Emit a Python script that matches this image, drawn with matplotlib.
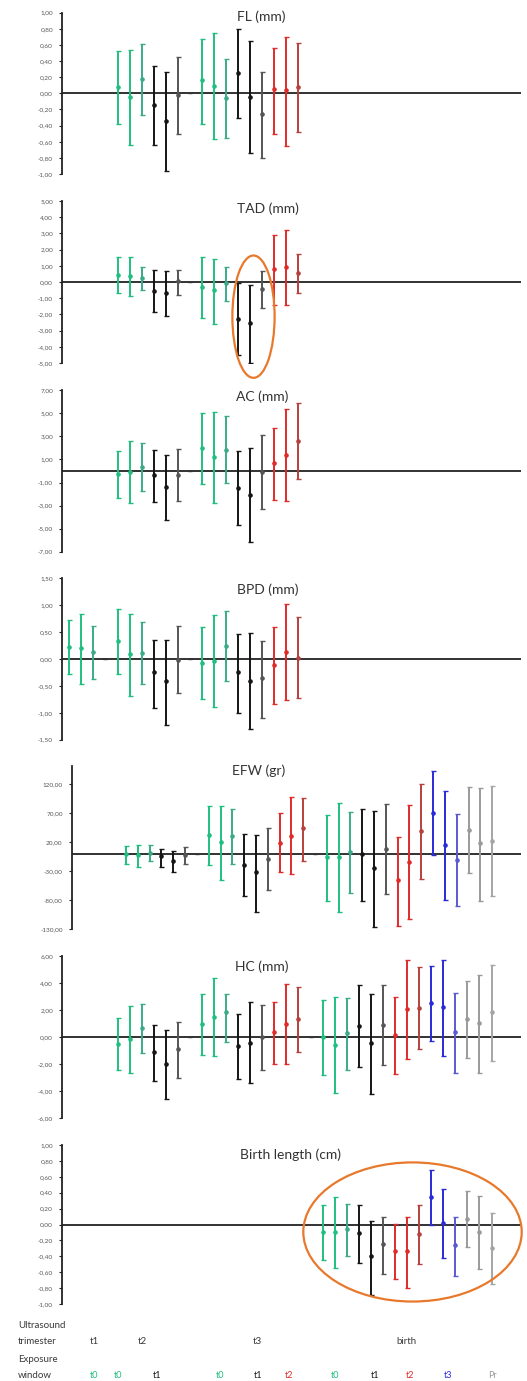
import matplotlib
matplotlib.use("Agg")
import matplotlib.pyplot as plt
from matplotlib.patches import Ellipse
import numpy as np

plt.rcParams['font.family'] = ['Lato', 'DejaVu Sans']

W, H = 527, 1381

# exposure window of every slot along the x axis ('' = spacer between trimesters)
SLOT_WINDOW = ['t0', 't0', 't0', '',
               't0', 't0', 't0', 't1', 't1', 't1', '',
               't0', 't0', 't0', 't1', 't1', 't1', 't2', 't2', 't2', '',
               't0', 't0', 't0', 't1', 't1', 't1', 't2', 't2', 't2',
               't3', 't3', 't3', 'Pr', 'Pr', 'Pr']

# three shades per window (third estimate of each group is a bit different)
COLORS = {
    't0': ['#1fbf7f', '#1fbf7f', '#3aaa88'],
    't1': ['#151515', '#151515', '#555555'],
    't2': ['#e02a2a', '#e02a2a', '#b5403c'],
    't3': ['#2a2ad8', '#2a2ad8', '#5a5ad0'],
    'Pr': ['#9a9a9a', '#9a9a9a', '#a5a5a5'],
    '': ['#333333'] * 3,
}

# ---- estimates (mean, upper, lower) per outcome ----
FL_START = 4
FL_MEAN = [0.08, -0.04, 0.18, -0.14, -0.34, -0.02, 0, 0.16, 0.09, -0.06, 0.25, -0.05, -0.26, 0.05, 0.04, 0.08]
FL_HI = [0.53, 0.54, 0.61, 0.34, 0.26, 0.45, 0, 0.67, 0.75, 0.42, 0.80, 0.65, 0.26, 0.56, 0.70, 0.63]
FL_LO = [-0.38, -0.64, -0.27, -0.64, -0.96, -0.51, 0, -0.38, -0.57, -0.55, -0.31, -0.74, -0.80, -0.50, -0.65, -0.48]

TAD_START = 4
TAD_MEAN = [0.45, 0.35, 0.25, -0.53, -0.70, 0.06, 0, -0.31, -0.51, -0.06, -2.28, -2.55, -0.43, 0.80, 0.91, 0.58]
TAD_HI = [1.54, 1.56, 0.93, 0.72, 0.68, 0.76, 0, 1.54, 1.44, 0.91, -0.06, -0.18, 0.70, 2.92, 3.21, 1.73]
TAD_LO = [-0.70, -0.88, -0.51, -1.85, -2.08, -0.78, 0, -2.24, -2.57, -1.15, -4.53, -4.98, -1.58, -1.40, -1.40, -0.68]

AC_START = 4
AC_MEAN = [-0.26, -0.06, 0.35, -0.35, -1.36, -0.38, 0, 1.97, 1.19, 1.85, -1.45, -2.08, -0.06, 0.66, 1.39, 2.63]
AC_HI = [1.73, 2.57, 2.40, 1.82, 1.36, 1.88, 0, 5.00, 5.12, 4.77, 1.71, 1.97, 3.09, 3.73, 5.38, 5.90]
AC_LO = [-2.37, -2.80, -1.71, -2.66, -4.25, -2.63, 0, -1.10, -2.75, -1.04, -4.71, -6.13, -3.29, -2.51, -2.63, -0.69]

BPD_START = 0
BPD_MEAN = [0.23, 0.20, 0.13, 0, 0.33, 0.09, 0.12, -0.25, -0.41, -0.01, 0, -0.07, -0.03, 0.25, -0.25, -0.40, -0.36, -0.11, 0.13, 0.02]
BPD_HI = [0.72, 0.84, 0.62, 0, 0.93, 0.84, 0.68, 0.36, 0.36, 0.62, 0, 0.60, 0.82, 0.90, 0.46, 0.49, 0.34, 0.60, 1.02, 0.78]
BPD_LO = [-0.27, -0.47, -0.37, 0, -0.27, -0.69, -0.46, -0.91, -1.22, -0.64, 0, -0.75, -0.90, -0.40, -1.00, -1.31, -1.09, -0.83, -0.77, -0.72]

EFW_START = 4
EFW_MEAN = [-1, -2, 2, -3.5, -13, -2, 0, 32, 20, 31.5, -19, -32, -9, 19, 31.5, 44, 0,
            -6, -5, 3, 0, -24, 9, -46, -14, 40, 70, 15, -10, 42, 18, 22.5]
EFW_HI = [14, 16, 16, 8, 5, 11.5, 0, 82, 83, 78, 34, 32, 44, 70, 98, 97, 0,
          67, 88, 73, 78, 75, 86, 30, 84, 120, 144, 108, 69, 115, 114, 117]
EFW_LO = [-17, -22, -11.5, -22, -32, -17, 0, -20, -46, -18, -73, -101, -63, -32, -34, -12.5, 0,
          -82, -101, -67, -81, -126, -70, -124, -112, -43, -2, -80, -91, -33, -81, -73]

HC_START = 4
HC_MEAN = [-0.52, -0.15, 0.69, -1.11, -1.98, -0.89, 0, 0.99, 1.51, 1.85, -0.69, -0.42, 0.02, 0.37, 0.99, 1.36, 0,
           0, -0.57, 0.30, 0.81, -0.44, 0.89, 0.17, 2.07, 2.15, 2.49, 2.22, 0.35, 1.36, 1.01, 1.85]
HC_HI = [1.43, 2.27, 2.47, 0.86, 0.52, 1.14, 0, 3.21, 4.40, 3.21, 1.68, 2.57, 2.35, 2.62, 3.93, 3.73, 0,
         2.77, 2.94, 2.89, 3.83, 3.21, 3.83, 2.99, 5.73, 5.16, 5.26, 5.68, 3.26, 4.17, 4.62, 5.36]
HC_LO = [-2.47, -2.69, -1.19, -3.26, -4.59, -3.01, 0, -1.33, -1.38, -0.37, -3.14, -3.43, -2.42, -2.00, -1.98, -1.14, 0,
         -2.84, -4.17, -2.44, -2.25, -4.22, -2.07, -2.77, -1.63, -0.91, -0.27, -1.38, -2.64, -1.58, -2.69, -1.75]

BL_START = 21
BL_MEAN = [-0.09, -0.09, -0.06, -0.11, -0.40, -0.24, -0.33, -0.33, -0.12, 0.34, 0.02, -0.26, 0.07, -0.10, -0.29]
BL_HI = [0.25, 0.34, 0.26, 0.25, 0.05, 0.10, 0.01, 0.10, 0.24, 0.68, 0.45, 0.10, 0.42, 0.36, 0.14]
BL_LO = [-0.45, -0.55, -0.40, -0.49, -0.89, -0.62, -0.69, -0.80, -0.50, 0.00, -0.42, -0.65, -0.28, -0.56, -0.75]

# labels under the last panel
TRIMESTER_LABELS = ['t1', 't2', 't3', 'birth']
TRIMESTER_X = [94, 142, 257, 406]
WINDOW_LABELS = ['t0', 't0', 't1', 't0', 't1', 't2', 't0', 't1', 't2', 't3', 'Pr']
WINDOW_X = [94, 118, 157, 220, 258, 289, 335, 375, 410, 448, 492]


def shade(slot):
    w = SLOT_WINDOW[slot]
    if w == '':
        return COLORS[''][0]
    k = 0
    while slot - k - 1 >= 0 and SLOT_WINDOW[slot - k - 1] == w:
        k += 1
    return COLORS[w][min(k % 3, 2)]


def fmt(v):
    return f"{v:.2f}".replace('.', ',').replace('-0,00', '0,00')


def panel(left, top, bottom, title, tx, ty, start, mean, hi, lo, ylim, ticks):
    ax = fig.add_axes([left / W, 1 - bottom / H, (520.5 - left) / W, (bottom - top) / H])
    for i, (m, h, l) in enumerate(zip(mean, hi, lo)):
        x = start + i
        c = shade(x)
        if SLOT_WINDOW[x] == '':
            # spacer between trimesters: just a tiny tick on the zero line
            ax.plot([x], [m], marker='_', ms=3, mew=1.0, color=c, zorder=3)
            continue
        ax.errorbar([x], [m], yerr=[[m - l], [h - m]], fmt='o', ms=2.3, color=c,
                    ecolor=c, elinewidth=1.4, capsize=1.8, capthick=1.0, zorder=3)
    ax.axhline(0, color='#222222', lw=1.3, zorder=2)
    ax.set_xlim(-0.6, 37.4)
    ax.set_ylim(*ylim)
    ax.set_yticks(ticks)
    ax.set_yticklabels([fmt(t) for t in ticks])
    for s in ['top', 'right', 'bottom']:
        ax.spines[s].set_visible(False)
    ax.spines['left'].set_color('#222222')
    ax.spines['left'].set_linewidth(1.3)
    ax.set_xticks([])
    ax.tick_params(axis='y', direction='out', length=2.5, width=0.8, pad=4,
                   labelsize=4.6, labelcolor='#555555', color='#222222')
    fig.text(tx / W, 1 - ty / H, title, ha='center', va='center', fontsize=10, color='#333333')
    return ax


fig = plt.figure(figsize=(W / 100, H / 100), dpi=100)

panel(62, 12.7, 174, 'FL (mm)', 261, 17, FL_START, FL_MEAN, FL_HI, FL_LO,
      (-1, 1), np.round(np.arange(-1, 1.01, 0.2), 2))
ax_tad = panel(62, 201, 363, 'TAD (mm)', 268, 209, TAD_START, TAD_MEAN, TAD_HI, TAD_LO,
               (-5, 5), np.arange(-5, 6, 1))
panel(62, 390.3, 551.7, 'AC (mm)', 262, 397, AC_START, AC_MEAN, AC_HI, AC_LO,
      (-7, 7), np.arange(-7, 8, 2))
panel(62, 578.3, 739.7, 'BPD (mm)', 268, 590, BPD_START, BPD_MEAN, BPD_HI, BPD_LO,
      (-1.5, 1.5), np.arange(-1.5, 1.51, 0.5))
panel(71.7, 766, 929, 'EFW (gr)', 259, 771, EFW_START, EFW_MEAN, EFW_HI, EFW_LO,
      (-130, 152), np.arange(-130, 121, 50))
panel(62, 956, 1118, 'HC (mm)', 262, 967, HC_START, HC_MEAN, HC_HI, HC_LO,
      (-6, 6), np.arange(-6, 7, 2))
ax_bl = panel(62, 1145, 1304, 'Birth length (cm)', 290, 1155, BL_START, BL_MEAN, BL_HI, BL_LO,
              (-1, 1), np.round(np.arange(-1, 1.01, 0.2), 2))

# highlighted estimates
ax_tad.add_patch(Ellipse((15.27, -2.14), 3.5, 7.55, fill=False, ec='#e8792c', lw=1.6,
                         clip_on=False, zorder=5))
ax_bl.add_patch(Ellipse((28.45, -0.094), 18.1, 1.75, fill=False, ec='#e8792c', lw=1.6,
                        clip_on=False, zorder=5))

# row labels
lab = dict(fontsize=7, color='#3a3a3a', va='center')
fig.text(18 / W, 1 - 1326 / H, 'Ultrasound', ha='left', **lab)
fig.text(18 / W, 1 - 1341 / H, 'trimester', ha='left', **lab)
fig.text(18 / W, 1 - 1360 / H, 'Exposure', ha='left', **lab)
fig.text(18 / W, 1 - 1375 / H, 'window', ha='left', **lab)
for t, x in zip(TRIMESTER_LABELS, TRIMESTER_X):
    fig.text(x / W, 1 - 1341 / H, t, ha='center', **lab)
for t, x in zip(WINDOW_LABELS, WINDOW_X):
    fig.text(x / W, 1 - 1375 / H, t, ha='center', fontsize=6.5, va='center',
             color=COLORS[t][0])

fig.savefig('out.png', dpi=100)
